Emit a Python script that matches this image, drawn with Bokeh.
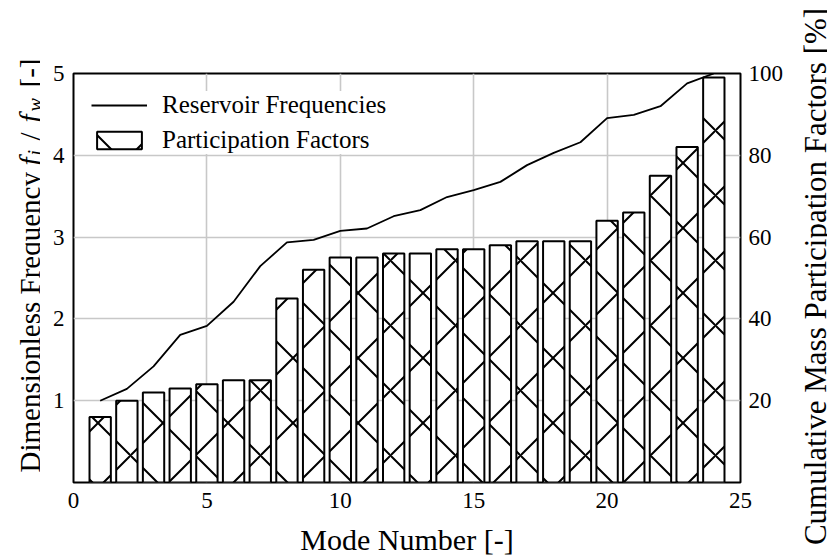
import math

from bokeh.plotting import figure
from bokeh.layouts import row, column
from bokeh.core.properties import value
from bokeh.models import Range1d, LinearAxis, FixedTicker, Legend, LegendItem
from bokeh.embed import file_html
from bokeh.resources import INLINE

# --- data -------------------------------------------------------------------
modes = list(range(1, 25))
participation = [0.8, 1.0, 1.1, 1.15, 1.2, 1.25, 1.25, 2.25, 2.6, 2.75, 2.75, 2.8,
                 2.8, 2.85, 2.85, 2.9, 2.95, 2.95, 2.95, 3.2, 3.3, 3.75, 4.1, 4.95]
cumulative_pct = [20.0, 22.9, 28.4, 36.1, 38.3, 44.2, 52.9, 58.7, 59.3, 61.5, 62.1, 65.1,
                  66.6, 69.8, 71.5, 73.5, 77.6, 80.6, 83.2, 89.1, 89.9, 92.0, 97.6, 100.0]
x_ticks = [0, 5, 10, 15, 20, 25]
left_ticks = [1, 2, 3, 4, 5]
right_ticks = [20, 40, 60, 80, 100]

# --- layout constants (pixels) -------------------------------------------------
H = 558
TITLE_STRIP = 40         # left axis title
TICK_STRIP = 25          # left tick labels
RIGHT_STRIP = 41         # right axis title
FRAME_L, FRAME_R, FRAME_T, FRAME_B = 73, 742, 73, 483
MAIN_X0 = TITLE_STRIP + TICK_STRIP
MAIN_W = 827 - MAIN_X0 - RIGHT_STRIP
FONT = "Liberation Serif"
TITLE_FONT = "'Liberation Serif', serif"
UP = math.pi / 2


def style_axis(ax, standoff):
    ax.axis_line_color = None
    ax.major_tick_line_color = None
    ax.minor_tick_line_color = None
    ax.major_tick_out = 0
    ax.major_tick_in = 0
    ax.minor_tick_out = 0
    ax.minor_tick_in = 0
    ax.major_label_text_font = FONT
    ax.major_label_text_font_size = "23px"
    ax.major_label_text_color = "black"
    ax.major_label_standoff = standoff


def text_strip(width, height):
    """Blank figure whose data units are pixels (origin bottom-left)."""
    f = figure(width=width, height=height, x_range=Range1d(0, width), y_range=Range1d(0, height),
               x_axis_type=None, y_axis_type=None, output_backend="svg", toolbar_location=None,
               min_border=0, outline_line_color=None)
    f.background_fill_color = "white"
    f.border_fill_color = "white"
    return f


def add_text(fig, text, x, y, size, style="normal", align="left", angle=0.0):
    fig.text(x=[x], y=[y], text=[text], angle=angle,
             text_font=value(TITLE_FONT), text_font_size=value(f"{size}px"),
             text_font_style=value(style), text_align=align,
             text_baseline="alphabetic", text_color="black")


# --- main chart ---------------------------------------------------------------
p = figure(width=MAIN_W, height=H, x_range=Range1d(0, 25), y_range=Range1d(0, 5),
           output_backend="svg", toolbar_location=None,
           min_border_left=FRAME_L - MAIN_X0, min_border_right=MAIN_X0 + MAIN_W - FRAME_R,
           min_border_top=FRAME_T, min_border_bottom=H - FRAME_B)
p.extra_y_ranges = {"pct": Range1d(0, 100)}
p.background_fill_color = "white"
p.border_fill_color = "white"
p.outline_line_color = "black"
p.outline_line_width = 2

p.left[0].visible = False          # left tick labels live in their own strip

right_axis = LinearAxis(y_range_name="pct")
p.add_layout(right_axis, "right")
right_axis.ticker = FixedTicker(ticks=right_ticks)
style_axis(right_axis, 8)

xax = p.below[0]
xax.ticker = FixedTicker(ticks=x_ticks)
style_axis(xax, 10)
xax.axis_label = "Mode Number [-]"
xax.axis_label_text_font = FONT
xax.axis_label_text_font_size = "30px"
xax.axis_label_text_font_style = "normal"
xax.axis_label_text_color = "black"
xax.axis_label_standoff = 12

p.xgrid.ticker = FixedTicker(ticks=x_ticks)
p.ygrid.ticker = FixedTicker(ticks=left_ticks)
p.grid.grid_line_color = "#c8c8c8"
p.grid.grid_line_width = 1.6

bars = p.vbar(x=modes, top=participation, width=0.8,
              fill_color="white", line_color="black", line_width=2,
              hatch_pattern="x", hatch_color="black", hatch_weight=2, hatch_scale=65)

freq_line = p.line(modes, cumulative_pct, y_range_name="pct",
                   line_color="black", line_width=1.8)

legend = Legend(items=[LegendItem(label="Reservoir Frequencies", renderers=[freq_line]),
                       LegendItem(label="Participation Factors", renderers=[bars])],
                location="top_left")
legend.label_text_font = FONT
legend.label_text_font_size = "25px"
legend.label_text_color = "black"
legend.glyph_width = 56
legend.glyph_height = 22
legend.label_standoff = 15
legend.label_height = 28
legend.spacing = 7
legend.padding = 12
legend.margin = 18
legend.border_line_color = None
legend.background_fill_color = "white"
legend.background_fill_alpha = 1.0
p.add_layout(legend)

# --- left tick labels: a strip sharing the main chart's vertical scale -----------
ticks_fig = figure(width=TICK_STRIP, height=H, x_range=Range1d(0, 1), y_range=p.y_range,
                   x_axis_type=None, output_backend="svg", toolbar_location=None,
                   min_border_left=TICK_STRIP - 1, min_border_right=0,
                   min_border_top=FRAME_T, min_border_bottom=H - FRAME_B,
                   outline_line_color=None)
ticks_fig.background_fill_color = "white"
ticks_fig.border_fill_color = "white"
ticks_fig.grid.visible = False
ticks_fig.left[0].ticker = FixedTicker(ticks=left_ticks)
style_axis(ticks_fig.left[0], 0)

# --- axis titles ----------------------------------------------------------------
# left title: roman text with italic f_i / f_w (subscripts sit a little lower)
left = text_strip(TITLE_STRIP, H)
BASE, SUB = 29, 34
add_text(left, "Dimensionless Frequency", BASE, H - 472, 29, angle=UP)
add_text(left, "f", BASE, H - 165, 29, "italic", angle=UP)
add_text(left, "i", SUB, H - 155, 20, "italic", angle=UP)
add_text(left, "/", BASE, H - 140, 29, angle=UP)
add_text(left, "f", BASE, H - 122, 29, "italic", angle=UP)
add_text(left, "w", SUB, H - 111, 20, "italic", angle=UP)
add_text(left, "[-]", BASE, H - 87, 29, angle=UP)

right = text_strip(RIGHT_STRIP, H)
add_text(right, "Cumulative Mass Participation Factors [%]", 29, H - 276, 31,
         align="center", angle=UP)

# the chart and its tick strip are nested so their frames do not align with the title strips
layout = row(left, column(row(ticks_fig, p)), right)

open("out.html", "w").write(file_html(layout, INLINE))
